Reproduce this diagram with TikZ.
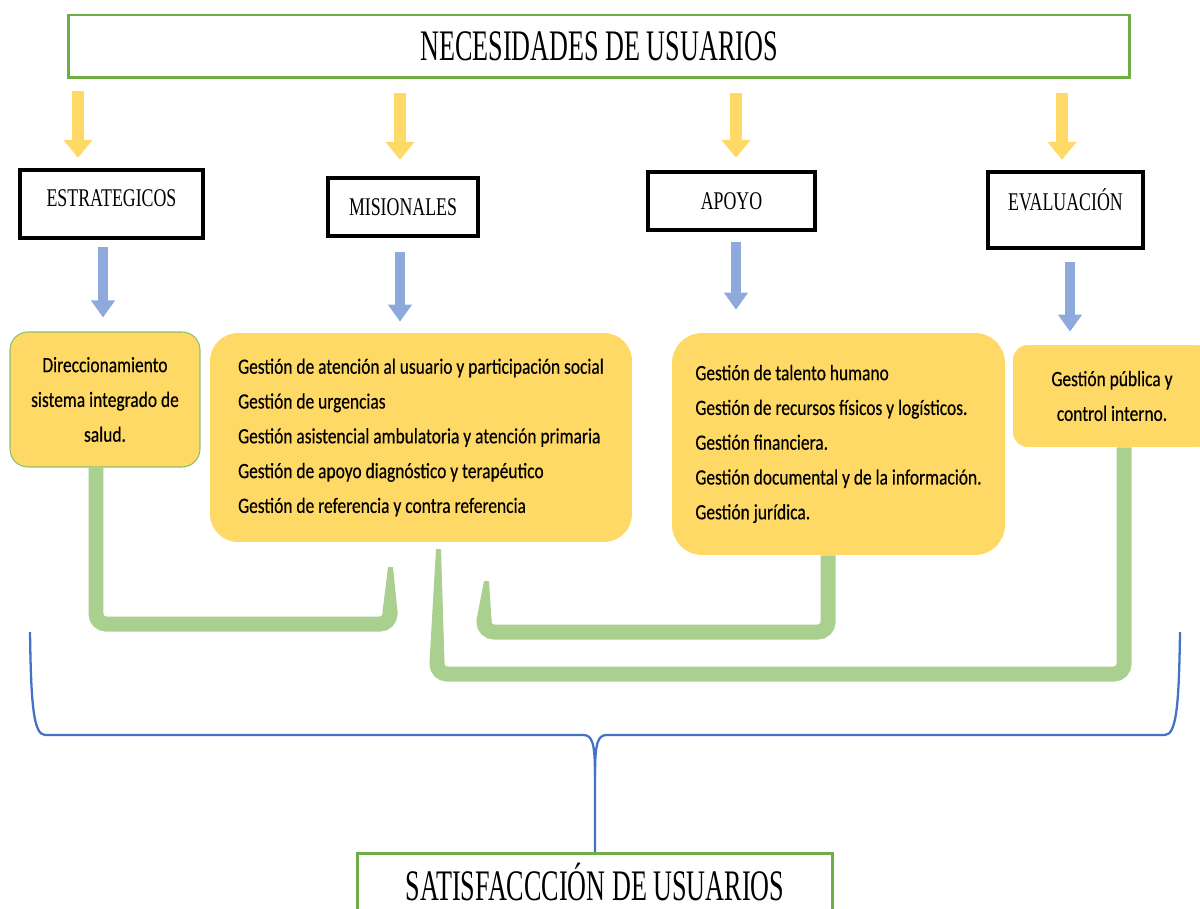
\documentclass[tikz,border=0pt]{standalone}
\usepackage{fontspec}
\setmainfont{Carlito}
\newfontfamily\bodyfont[FakeStretch=0.8, FakeBold=0.4]{Carlito}
\newfontfamily\titlefont[FakeStretch=0.6]{Liberation Serif}
\newfontfamily\hdrfont[FakeStretch=0.7]{Liberation Serif}
\usetikzlibrary{arrows.meta}
\definecolor{boxgreen}{RGB}{112,173,71}
\definecolor{linkgreen}{RGB}{169,208,142}
\definecolor{procyellow}{RGB}{255,217,102}
\definecolor{downblue}{RGB}{142,169,219}
\definecolor{braceblue}{RGB}{68,114,196}
\tikzset{
title/.style={draw=boxgreen, line width=1.7pt, inner sep=0pt, font=\titlefont\fontsize{24.8}{26}\selectfont}, % top and bottom boxes
header/.style={draw=black, line width=2.5pt, inner sep=0pt, font=\hdrfont\fontsize{14.5}{16}\selectfont}, % the four groups
process/.style={fill=procyellow, rounded corners=0.5cm, inner sep=0pt, font=\bodyfont\fontsize{12.4}{19.8}\selectfont}, % yellow boxes
yarrow/.style={draw=procyellow, line width=0.24cm, -{Triangle[length=0.36cm, width=0.56cm]}},
barrow/.style={draw=downblue, line width=0.2cm, -{Triangle[length=0.34cm, width=0.46cm]}},
link/.style={draw=linkgreen, line width=0.3cm, rounded corners=0.2cm},
tip/.style={fill=linkgreen},
brace/.style={draw=braceblue, line width=1.3pt},
}
\begin{document}
\begin{tikzpicture}[x=0.02cm, y=-0.02cm]
      \clip (0,0) rectangle (1200,909);

      \node[title, minimum width=21.24cm, minimum height=1.26cm] (need) at (599,46.5) {NECESIDADES DE USUARIOS};

      \node[header, minimum width=3.66cm, minimum height=1.36cm, text depth=0.24cm] (estr) at (111.5,204) {ESTRATEGICOS};
      \node[header, minimum width=3.0cm, minimum height=1.16cm] (mis) at (403,207) {MISIONALES};
      \node[header, minimum width=3.34cm, minimum height=1.16cm] (apo) at (731.5,201) {APOYO};
      \node[header, minimum width=3.1cm, minimum height=1.52cm, text depth=0.4cm] (eva) at (1065.5,210) {EVALUACIÓN};

      \node[process, draw=boxgreen!80, line width=0.6pt, rounded corners=0.36cm, align=center,
            minimum width=3.8cm, minimum height=2.7cm] (dir) at (105,399.5)
            {Direccionamiento\\sistema integrado de\\salud.};
      \node[process, rounded corners=0.56cm, align=left, minimum width=8.44cm, minimum height=4.18cm] (misbox) at (421,437.5)
            {Gestión de atención al usuario y participación social\\
             Gestión de urgencias\\
             Gestión asistencial ambulatoria y atención primaria\\
             Gestión de apoyo diagnóstico y terapéutico\\
             Gestión de referencia y contra referencia};
      \node[process, rounded corners=0.6cm, align=left, minimum width=6.66cm, minimum height=4.44cm] (apobox) at (838.5,444)
            {Gestión de talento humano\\
             Gestión de recursos físicos y logísticos.\\
             Gestión financiera.\\
             Gestión documental y de la información.\\
             Gestión jurídica.};
      \node[process, rounded corners=0.3cm, align=center, minimum width=3.96cm, minimum height=2.04cm] (evabox) at (1112,396)
            {Gestión pública y\\control interno.};

      \node[title, anchor=north, minimum width=9.52cm, minimum height=1.6cm, text height=0.95cm, text depth=0.65cm] (sat) at (595,852)
            {SATISFACCCIÓN DE USUARIOS};

      % yellow arrows
      \draw[yarrow, shorten <=0.24cm, shorten >=0.2cm] (need.south -| 78,0) -- (estr.north -| 78,0);
      \draw[yarrow, shorten <=0.28cm, shorten >=0.32cm] (need.south -| 400,0) -- (mis.north -| 400,0);
      \draw[yarrow, shorten <=0.28cm, shorten >=0.24cm] (need.south -| 736,0) -- (apo.north -| 736,0);
      \draw[yarrow, shorten <=0.28cm, shorten >=0.2cm] (need.south -| 1062,0) -- (eva.north -| 1062,0);

      % blue arrows
      \draw[barrow, shorten <=0.14cm, shorten >=0.28cm] (estr.south -| 103,0) -- (dir.north -| 103,0);
      \draw[barrow, shorten <=0.28cm, shorten >=0.22cm] (mis.south -| 400,0) -- (misbox.north -| 400,0);
      \draw[barrow, shorten <=0.2cm, shorten >=0.46cm] (apo.south -| 736,0) -- (apobox.north -| 736,0);
      \draw[barrow, shorten <=0.24cm, shorten >=0.26cm] (eva.south -| 1070,0) -- (evabox.north -| 1070,0);

      % green links
      \draw[link] (dir.south -| 96,0) |- (390,624) -- (390,611);
      \fill[tip] (382.5,612) -- (397.5,612) -- (393,567) -- (388,567) -- cycle;
      \draw[link] (apobox.south -| 828,0) |- (484,632) -- (484,619);
      \fill[tip] (476.5,620) -- (491.5,620) -- (489,581) -- (484,581) -- cycle;
      \draw[link] (evabox.south -| 1124,0) |- (437,674) -- (437,661);
      \fill[tip] (429.5,662) -- (444.5,662) -- (441,549) -- (436,549) -- cycle;

      % brace
      \coordinate (bracetip) at (595,775);
      \draw[brace] (30,632) .. controls (31,700) and (33,735) .. (45,735) -- (583,735)
            .. controls (592,735) and (595,742) .. (bracetip) -- (sat.north);
      \draw[brace] (1180,632) .. controls (1179,700) and (1177,735) .. (1165,735) -- (607,735)
            .. controls (598,735) and (595,742) .. (bracetip);
\end{tikzpicture}
\end{document}
